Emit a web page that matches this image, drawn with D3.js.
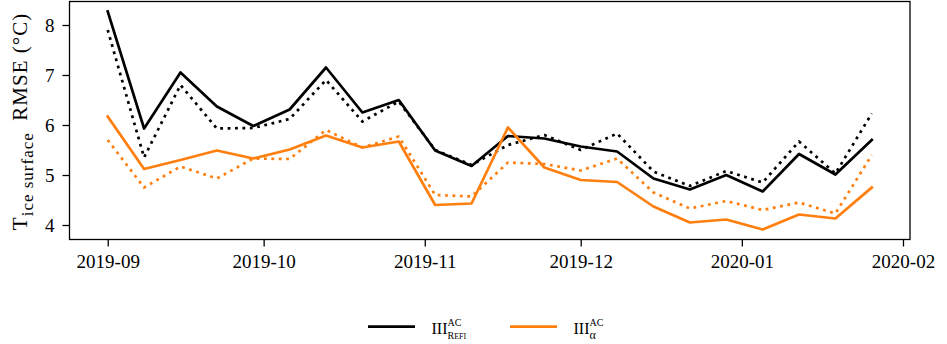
<!DOCTYPE html>
<html>
<head>
<meta charset="utf-8">
<script src="https://cdn.jsdelivr.net/npm/d3@7/dist/d3.min.js"></script>
<style>
  html, body { margin: 0; padding: 0; background: #fff; }
  svg { display: block; font-family: "Liberation Serif", "DejaVu Serif", serif; }
</style>
</head>
<body>
<svg id="chart" width="947" height="344"></svg>
<script>
// Weekly evaluation dates
const dates = [
  "2019-09-01", "2019-09-08", "2019-09-15", "2019-09-22", "2019-09-29",
  "2019-10-06", "2019-10-13", "2019-10-20", "2019-10-27",
  "2019-11-03", "2019-11-10", "2019-11-17", "2019-11-24",
  "2019-12-01", "2019-12-08", "2019-12-15", "2019-12-22", "2019-12-29",
  "2020-01-05", "2020-01-12", "2020-01-19", "2020-01-26"
];

// Ice surface temperature RMSE (°C)
const refiSolid = [8.27, 5.93, 7.05, 6.37, 5.98, 6.31, 7.15, 6.25, 6.50, 5.49, 5.18,
                   5.78, 5.73, 5.57, 5.47, 4.93, 4.71, 5.00, 4.67, 5.42, 5.01, 5.70];
const refiDotted = [7.90, 5.35, 6.80, 5.93, 5.94, 6.12, 6.90, 6.07, 6.47, 5.50, 5.20,
                    5.60, 5.80, 5.50, 5.83, 5.07, 4.78, 5.08, 4.85, 5.67, 5.03, 6.23];
const alphaSolid = [6.17, 5.12, 5.30, 5.49, 5.33, 5.51, 5.79, 5.55, 5.67, 4.40, 4.43,
                    5.95, 5.15, 4.90, 4.86, 4.37, 4.05, 4.11, 3.91, 4.21, 4.13, 4.75];
const alphaDotted = [5.70, 4.75, 5.17, 4.93, 5.33, 5.32, 5.90, 5.55, 5.77, 4.60, 4.57,
                     5.25, 5.22, 5.09, 5.33, 4.65, 4.33, 4.48, 4.30, 4.45, 4.23, 5.40];

const yTicks = [4, 5, 6, 7, 8];
const xTickDates = ["2019-09-01", "2019-10-01", "2019-11-01", "2019-12-01", "2020-01-01", "2020-02-01"];

const BLACK = "#000000";
const ORANGE = "#ff7f0e";

const parse = d3.utcParse("%Y-%m-%d");
const dateObjs = dates.map(parse);

const frame = { left: 69.5, right: 910, top: 1.5, bottom: 239.5 };

// 5% padding on each side of the date extent
const [d0, d1] = d3.extent(dateObjs);
const pad = (d1 - d0) * 0.05;
const x = d3.scaleUtc()
  .domain([new Date(+d0 - pad), new Date(+d1 + pad)])
  .range([frame.left, frame.right]);

const y = d3.scaleLinear()
  .domain([3.71, 8.47])
  .range([frame.bottom, frame.top]);

const svg = d3.select("#chart");

// Axes
const xAxis = d3.axisBottom(x)
  .tickValues(xTickDates.map(parse))
  .tickFormat(d3.utcFormat("%Y-%m"))
  .tickSize(7)
  .tickPadding(8.5);

const yAxis = d3.axisLeft(y)
  .tickValues(yTicks)
  .tickFormat(d3.format("d"))
  .tickSize(7)
  .tickPadding(8);

const gx = svg.append("g")
  .attr("transform", `translate(0,${frame.bottom})`)
  .call(xAxis);
const gy = svg.append("g")
  .attr("transform", `translate(${frame.left},0)`)
  .call(yAxis);

[gx, gy].forEach(g => {
  g.select(".domain").remove();
  g.selectAll(".tick line").attr("stroke", BLACK).attr("stroke-width", 1.3);
  g.selectAll(".tick text")
    .attr("fill", BLACK)
    .style("font-family", "'Liberation Serif', serif")
    .style("font-size", "19px");
});

// Series lines
const line = d3.line()
  .x((d, i) => x(dateObjs[i]))
  .y(d => y(d));

const series = [
  { values: refiSolid, color: BLACK, dash: null },
  { values: refiDotted, color: BLACK, dash: "2.8,4.6" },
  { values: alphaSolid, color: ORANGE, dash: null },
  { values: alphaDotted, color: ORANGE, dash: "2.8,4.6" }
];

const plot = svg.append("g");
series.forEach(s => {
  plot.append("path")
    .datum(s.values)
    .attr("d", line)
    .attr("fill", "none")
    .attr("stroke", s.color)
    .attr("stroke-width", 2.7)
    .attr("stroke-linejoin", "round")
    .attr("stroke-linecap", s.dash ? "butt" : "square")
    .attr("stroke-dasharray", s.dash);
});

// Plot frame
svg.append("rect")
  .attr("x", frame.left)
  .attr("y", frame.top)
  .attr("width", frame.right - frame.left)
  .attr("height", frame.bottom - frame.top)
  .attr("fill", "none")
  .attr("stroke", BLACK)
  .attr("stroke-width", 1.3);

// Y axis title
const yTitle = svg.append("text")
  .attr("transform", `translate(27,${(frame.top + frame.bottom) / 2 + 1}) rotate(-90)`)
  .attr("text-anchor", "middle")
  .attr("fill", BLACK)
  .style("font-size", "21px")
  .style("letter-spacing", "1px");
yTitle.append("tspan").text("T");
yTitle.append("tspan").attr("dy", 6).style("font-size", "17px").text("ice surface");
yTitle.append("tspan").attr("dy", -6).text("\u2002RMSE (°C)");

// Legend: line swatch, then "III" with a stacked superscript and subscript
const legendItems = [
  { color: BLACK, sub: [["R", 10], ["EFI", 8]], x0: 368 },
  { color: ORANGE, sub: [["\u03b1", 12]], x0: 510 }
];
const legY = 326.7;
const lg = svg.append("g");
legendItems.forEach(item => {
  lg.append("line")
    .attr("x1", item.x0).attr("x2", item.x0 + 47)
    .attr("y1", legY).attr("y2", legY)
    .attr("stroke", item.color)
    .attr("stroke-width", 2.8);

  const tx = item.x0 + 63.5;
  const base = lg.append("text")
    .attr("x", tx).attr("y", legY + 6.8)
    .attr("fill", BLACK)
    .style("font-size", "16px")
    .text("III");
  const supX = tx + 16;

  lg.append("text")
    .attr("x", supX).attr("y", legY - 0.8)
    .attr("fill", BLACK)
    .style("font-size", "10px")
    .text("AC");

  const sub = lg.append("text")
    .attr("x", supX).attr("y", legY + 11.8)
    .attr("fill", BLACK);
  item.sub.forEach(([s, fs]) => {
    sub.append("tspan").style("font-size", fs + "px").text(s);
  });
});
</script>
</body>
</html>
